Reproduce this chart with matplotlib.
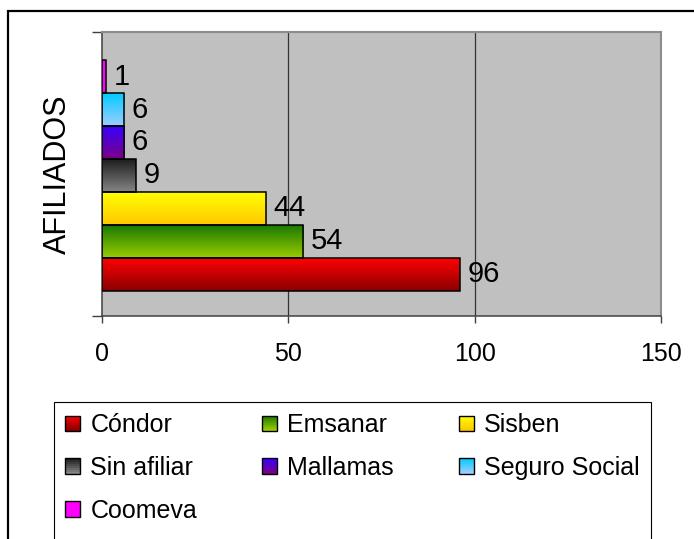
import numpy as np
import matplotlib as mpl
mpl.use('Agg')
import matplotlib.pyplot as plt
from matplotlib.patches import Rectangle
from matplotlib.legend_handler import HandlerBase
from matplotlib.colors import to_rgb

mpl.rcParams['font.family'] = ['Liberation Sans', 'DejaVu Sans']

# data
categoria = 'AFILIADOS'
entidades = ['Cóndor', 'Emsanar', 'Sisben', 'Sin afiliar', 'Mallamas', 'Seguro Social', 'Coomeva']
afiliados = [96, 54, 44, 9, 6, 6, 1]
# gradient colours (top, bottom) like the excel fill
color_top = ['#FF0000', '#1A7A00', '#FFFF00', '#1E1E1E', '#3A00FF', '#00CCFF', '#FF00FF']
color_bot = ['#8A0000', '#99CC00', '#FFC800', '#858585', '#7A0085', '#A0CCFF', '#FF00FF']
xticks = [0, 50, 100, 150]


def gradient(top, bot, n=64):
    t = np.linspace(0, 1, n)[:, None]
    a = np.array(to_rgb(top))[None, :]
    b = np.array(to_rgb(bot))[None, :]
    return (a * (1 - t) + b * t)[:, None, :]


class GradHandler(HandlerBase):
    def create_artists(self, legend, orig_handle, xdescent, ydescent,
                       width, height, fontsize, trans):
        top, bot = orig_handle
        n = 8
        arts = []
        for k in range(n):
            c = gradient(top, bot, n)[k, 0]
            arts.append(Rectangle((-xdescent, -ydescent + height * (n - 1 - k) / n),
                                  width, height / n, facecolor=c, edgecolor='none',
                                  transform=trans))
        arts.append(Rectangle((-xdescent, -ydescent), width, height,
                              facecolor='none', edgecolor='black', lw=1.0,
                              transform=trans))
        return arts


fig = plt.figure(figsize=(6.94, 5.39), dpi=100)
ax = fig.add_axes([102/694, 1-316/539, 559/694, 284/539])
ax.set_facecolor('#C0C0C0')

ypos = np.arange(len(afiliados))
bars = ax.barh(ypos, afiliados, height=1.0, facecolor='none',
               edgecolor='black', lw=1.1, zorder=3)
for b, ct, cb in zip(bars, color_top, color_bot):
    x0, y0, w, h = b.get_x(), b.get_y(), b.get_width(), b.get_height()
    ax.imshow(gradient(ct, cb), extent=[x0, x0 + w, y0, y0 + h],
              origin='upper', aspect='auto', zorder=2, interpolation='bilinear')

for b, v in zip(bars, afiliados):
    ax.annotate(str(v), (b.get_width(), b.get_y() + b.get_height() / 2),
                xytext=(5.5, 0), textcoords='offset points', va='center',
                ha='left', fontsize=21, zorder=4)

ylo, yhi = -1.26, 7.35
ax.set_xlim(0, 150)
ax.set_ylim(ylo, yhi)
ax.set_xticks(xticks)
ax.set_xticklabels([str(t) for t in xticks], fontsize=18)
ax.tick_params(axis='x', direction='out', length=5, width=1, color='#404040', pad=14)
ax.set_yticks([ylo, yhi])
ax.set_yticklabels(['', ''])
ax.set_yticks([(ylo + yhi) / 2], minor=True)
ax.set_yticklabels([categoria], minor=True, rotation=90, va='center', fontsize=22)
ax.tick_params(axis='y', which='major', direction='out', length=7.5, width=1, color='#404040')
ax.tick_params(axis='y', which='minor', length=0, pad=21)

for x in xticks[1:]:
    ax.axvline(x, color='#333333', lw=0.9, zorder=1)

for s in ['top', 'right']:
    ax.spines[s].set_color('#8C8C8C')
    ax.spines[s].set_linewidth(1.5)
ax.spines['left'].set_color('#404040')
ax.spines['bottom'].set_color('#404040')
ax.spines['left'].set_linewidth(1.1)
ax.spines['bottom'].set_linewidth(1.1)

# legend filled row by row (matplotlib fills by column)
orden = [0, 3, 6, 1, 4, 2, 5]
handles = [(color_top[i], color_bot[i]) for i in orden]
labels = [entidades[i] for i in orden]
leg = fig.legend(handles, labels, handler_map={tuple: GradHandler()},
                 loc='upper left', bbox_to_anchor=(54/694, 1-402/539),
                 ncol=3, fontsize=18, frameon=False,
                 handlelength=0.6, handleheight=0.6, handletextpad=0.4,
                 columnspacing=2.6, labelspacing=0.75, borderpad=0.45,
                 borderaxespad=0)

# legend box runs off the bottom of the picture, like the original
fig.canvas.draw()
bb = leg.get_window_extent().transformed(fig.transFigure.inverted())
fig.patches.append(Rectangle((bb.x0, -0.1), bb.width, bb.y1 + 0.1, transform=fig.transFigure,
                             fill=False, edgecolor='black', lw=0.8))

# outer chart border
fig.patches.append(Rectangle((8/694, -0.1), 1.1, 1-11/539 + 0.1, transform=fig.transFigure,
                             fill=False, edgecolor='black', lw=1.6))

fig.savefig('out.png', dpi=100)
